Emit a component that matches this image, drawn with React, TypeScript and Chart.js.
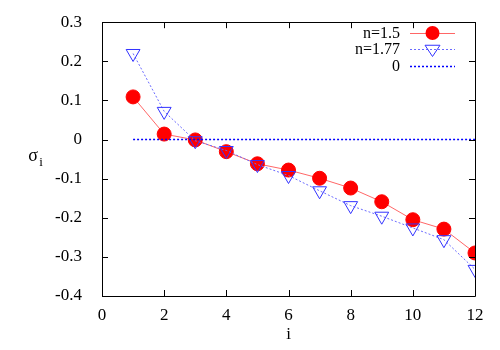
import React, { useEffect, useRef } from "react";
import { Chart, registerables } from "chart.js";

Chart.register(...registerables);

const iValues = [1, 2, 3, 4, 5, 6, 7, 8, 9, 10, 11, 12];
const sigmaN150 = [0.109, 0.014, -0.001, -0.031, -0.062, -0.078, -0.099, -0.124, -0.159, -0.205, -0.229, -0.29];
const sigmaN177 = [0.22, 0.072, -0.003, -0.028, -0.064, -0.092, -0.131, -0.169, -0.196, -0.226, -0.256, -0.332];
const zeroLine = [0, 0];
const zeroX = [1, 12];
const xTicks = [0, 2, 4, 6, 8, 10, 12];
const yTicks = [0.3, 0.2, 0.1, 0, -0.1, -0.2, -0.3, -0.4];
const legendLabels = ["n=1.5", "n=1.77", "0"];

const FONT = '"Liberation Serif", "DejaVu Serif", serif';

const framePlugin = {
  id: "gnuframe",
  afterDraw(chart: any) {
    const { ctx, chartArea: a, scales } = chart;
    const xs = scales.x;
    const ys = scales.y;
    ctx.save();
    ctx.strokeStyle = "#000";
    ctx.lineWidth = 1;
    ctx.beginPath();
    ctx.rect(Math.round(a.left) + 0.5, Math.round(a.top) + 0.5, Math.round(a.right - a.left), Math.round(a.bottom - a.top));
    ctx.stroke();
    const tl = 6;
    ctx.beginPath();
    for (const v of xTicks) {
      const px = Math.round(xs.getPixelForValue(v)) + 0.5;
      ctx.moveTo(px, a.bottom);
      ctx.lineTo(px, a.bottom - tl);
      ctx.moveTo(px, a.top);
      ctx.lineTo(px, a.top + tl);
    }
    for (const v of yTicks) {
      const py = Math.round(ys.getPixelForValue(v)) + 0.5;
      ctx.moveTo(a.left, py);
      ctx.lineTo(a.left + tl, py);
      ctx.moveTo(a.right, py);
      ctx.lineTo(a.right - tl, py);
    }
    ctx.stroke();

    ctx.fillStyle = "#000";
    ctx.textAlign = "center";
    ctx.textBaseline = "middle";
    ctx.font = `17px ${FONT}`;
    ctx.fillText("i", (a.left + a.right) / 2, 335);
    ctx.font = `18px ${FONT}`;
    ctx.fillText("σ", 33, 156);
    ctx.font = `13px ${FONT}`;
    ctx.fillText("i", 41, 163);

    const textRight = 400;
    const lx0 = 410;
    const lx1 = 455;
    const lxc = (lx0 + lx1) / 2;
    const rows = [33, 49, 66];
    ctx.font = `16px ${FONT}`;
    ctx.textAlign = "right";
    legendLabels.forEach((t, k) => ctx.fillText(t, textRight, rows[k] + 1));

    ctx.strokeStyle = "rgba(255,0,0,0.6)";
    ctx.lineWidth = 1;
    ctx.setLineDash([]);
    ctx.beginPath();
    ctx.moveTo(lx0, rows[0] + 0.5);
    ctx.lineTo(lx1, rows[0] + 0.5);
    ctx.stroke();
    ctx.fillStyle = "#ff0000";
    ctx.beginPath();
    ctx.arc(lxc, rows[0], 7, 0, Math.PI * 2);
    ctx.fill();

    ctx.strokeStyle = "#6a6aff";
    ctx.setLineDash([2, 2]);
    ctx.beginPath();
    ctx.moveTo(lx0, rows[1] + 0.5);
    ctx.lineTo(lx1, rows[1] + 0.5);
    ctx.stroke();
    ctx.setLineDash([]);
    ctx.strokeStyle = "#3333ff";
    ctx.beginPath();
    const r = 7.5;
    ctx.moveTo(lxc - r, rows[1] - r * 0.5);
    ctx.lineTo(lxc + r, rows[1] - r * 0.5);
    ctx.lineTo(lxc, rows[1] + r);
    ctx.closePath();
    ctx.stroke();

    ctx.strokeStyle = "#0000ff";
    ctx.lineWidth = 1.5;
    ctx.setLineDash([2, 2]);
    ctx.beginPath();
    ctx.moveTo(lx0, rows[2] + 0.5);
    ctx.lineTo(lx1, rows[2] + 0.5);
    ctx.stroke();
    ctx.restore();
  },
};

export default function App() {
  const ref = useRef<HTMLCanvasElement | null>(null);
  useEffect(() => {
    if (!ref.current) return;
    const chart = new Chart(ref.current, {
      type: "line",
      data: {
        datasets: [
          {
            label: legendLabels[0],
            data: iValues.map((x, k) => ({ x, y: sigmaN150[k] })),
            borderColor: "rgba(255,0,0,0.6)",
            borderWidth: 1,
            backgroundColor: "#ff0000",
            pointBackgroundColor: "#ff0000",
            pointBorderColor: "#ff0000",
            pointRadius: 7,
            pointStyle: "circle",
            order: 3,
          },
          {
            label: legendLabels[1],
            data: iValues.map((x, k) => ({ x, y: sigmaN177[k] })),
            borderColor: "#6a6aff",
            borderWidth: 1,
            borderDash: [2, 2],
            pointBorderColor: "#3333ff",
            pointBackgroundColor: "rgba(0,0,0,0)",
            pointBorderWidth: 1,
            pointRadius: 8,
            pointStyle: "triangle",
            pointRotation: 180,
            order: 2,
          },
          {
            label: legendLabels[2],
            data: zeroX.map((x, k) => ({ x, y: zeroLine[k] })),
            borderColor: "#0000ff",
            borderWidth: 1.5,
            borderDash: [2, 2],
            pointRadius: 0,
            order: 1,
          },
        ],
      },
      options: {
        animation: false,
        responsive: false,
        maintainAspectRatio: false,
        layout: { padding: { top: 20, right: 25, left: 0, bottom: 0 } },
        plugins: { legend: { display: false }, tooltip: { enabled: false } },
        scales: {
          x: {
            type: "linear",
            min: 0,
            max: 12,
            grid: { display: false },
            border: { display: false },
            ticks: {
              stepSize: 2,
              color: "#000",
              font: { family: FONT, size: 17 },
              padding: 1,
              maxRotation: 0,
            },
            afterFit: (s: any) => {
              s.height = 54;
            },
          },
          y: {
            type: "linear",
            min: -0.4,
            max: 0.3,
            grid: { display: false },
            border: { display: false },
            ticks: {
              stepSize: 0.1,
              color: "#000",
              font: { family: FONT, size: 17 },
              padding: 12,
              callback: (v: any) => {
                const n = Math.round(Number(v) * 10) / 10;
                return n === 0 ? "0" : n.toFixed(1);
              },
            },
            afterFit: (s: any) => {
              s.width = 102;
            },
          },
        },
      },
      plugins: [framePlugin],
    } as any);
    return () => chart.destroy();
  }, []);
  return (
    <canvas
      ref={ref}
      width={500}
      height={350}
      style={{ position: "fixed", left: 0, top: 0, width: 500, height: 350, background: "#fff" }}
    />
  );
}
